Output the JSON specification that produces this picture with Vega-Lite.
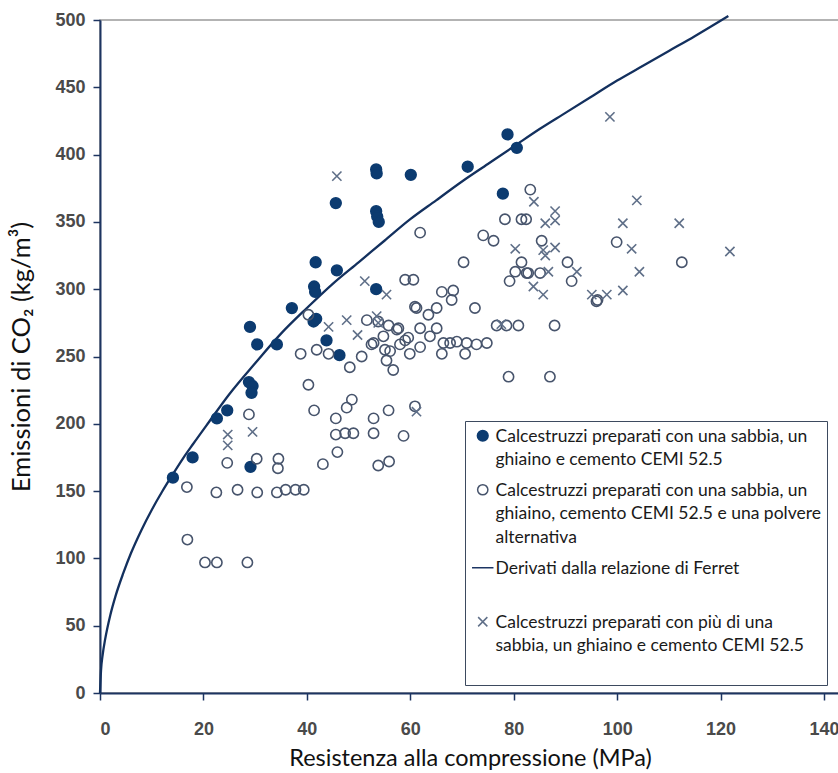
{
  "$schema": "https://vega.github.io/schema/vega-lite/v6.json",
  "width": 740,
  "height": 673,
  "autosize": {"type": "none"},
  "padding": {"left": 100, "top": 20, "right": 0, "bottom": 80},
  "background": "white",
  "config": {
    "view": {"stroke": "#9a9a9a", "strokeWidth": 1.5},
    "axis": {
      "grid": false,
      "domainColor": "#1d3461",
      "domainWidth": 2,
      "tickColor": "#1d3461",
      "tickWidth": 1.5,
      "tickSize": 7,
      "labelFont": "Liberation Sans",
      "labelFontSize": 18,
      "labelFontWeight": "bold",
      "labelColor": "#4a4a4a",
      "titleFont": "Lato",
      "titleFontSize": 25.5,
      "titleFontWeight": "normal",
      "titleColor": "#111111"
    }
  },
  "datasets": {
    "curve": [
      {"x": 0, "y": 0}, {"x": 0.2, "y": 17}, {"x": 0.5, "y": 28}, {"x": 1, "y": 40}, {"x": 2, "y": 58},
      {"x": 3, "y": 72}, {"x": 4.5, "y": 89}, {"x": 6, "y": 104}, {"x": 8, "y": 121}, {"x": 10, "y": 136},
      {"x": 12, "y": 149.5}, {"x": 14, "y": 162}, {"x": 16, "y": 174}, {"x": 18, "y": 185}, {"x": 21, "y": 201},
      {"x": 25, "y": 222}, {"x": 30, "y": 245}, {"x": 35, "y": 267}, {"x": 40, "y": 286}, {"x": 45, "y": 304},
      {"x": 50, "y": 320}, {"x": 55, "y": 336}, {"x": 60, "y": 352}, {"x": 65, "y": 366}, {"x": 70, "y": 380},
      {"x": 75, "y": 393}, {"x": 80, "y": 406}, {"x": 85, "y": 419}, {"x": 90, "y": 431}, {"x": 95, "y": 443},
      {"x": 100, "y": 455}, {"x": 105, "y": 466}, {"x": 110, "y": 477}, {"x": 115, "y": 488}, {"x": 121.5, "y": 503}
    ],
    "pts": [
      {"x": 14.1, "y": 160, "s": "A"}, {"x": 17.9, "y": 175, "s": "A"}, {"x": 22.6, "y": 204, "s": "A"},
      {"x": 24.6, "y": 210, "s": "A"}, {"x": 28.8, "y": 231, "s": "A"}, {"x": 29.5, "y": 228, "s": "A"},
      {"x": 29.3, "y": 223, "s": "A"}, {"x": 29.1, "y": 168, "s": "A"}, {"x": 29.0, "y": 272, "s": "A"},
      {"x": 30.4, "y": 259, "s": "A"}, {"x": 34.2, "y": 259, "s": "A"}, {"x": 37.1, "y": 286, "s": "A"},
      {"x": 41.7, "y": 320, "s": "A"}, {"x": 41.4, "y": 302, "s": "A"}, {"x": 41.6, "y": 298, "s": "A"},
      {"x": 41.3, "y": 276, "s": "A"}, {"x": 41.8, "y": 278, "s": "A"}, {"x": 45.8, "y": 314, "s": "A"},
      {"x": 45.6, "y": 364, "s": "A"}, {"x": 43.8, "y": 262, "s": "A"}, {"x": 46.3, "y": 251, "s": "A"},
      {"x": 53.4, "y": 300, "s": "A"}, {"x": 53.4, "y": 389, "s": "A"}, {"x": 53.5, "y": 386, "s": "A"},
      {"x": 53.4, "y": 358, "s": "A"}, {"x": 53.6, "y": 354, "s": "A"}, {"x": 53.9, "y": 350, "s": "A"},
      {"x": 60.1, "y": 385, "s": "A"}, {"x": 71.1, "y": 391, "s": "A"}, {"x": 77.9, "y": 371, "s": "A"},
      {"x": 78.8, "y": 415, "s": "A"}, {"x": 80.6, "y": 405, "s": "A"},

      {"x": 16.8, "y": 153, "s": "B"}, {"x": 16.9, "y": 114, "s": "B"}, {"x": 20.3, "y": 97, "s": "B"},
      {"x": 22.6, "y": 97, "s": "B"}, {"x": 28.5, "y": 97, "s": "B"}, {"x": 22.5, "y": 149, "s": "B"},
      {"x": 26.6, "y": 151, "s": "B"}, {"x": 30.4, "y": 149, "s": "B"}, {"x": 34.2, "y": 149, "s": "B"},
      {"x": 35.9, "y": 151, "s": "B"}, {"x": 37.8, "y": 151, "s": "B"}, {"x": 39.4, "y": 151, "s": "B"},
      {"x": 24.6, "y": 171, "s": "B"}, {"x": 30.3, "y": 174, "s": "B"}, {"x": 34.5, "y": 174, "s": "B"},
      {"x": 34.4, "y": 167, "s": "B"}, {"x": 28.8, "y": 207, "s": "B"}, {"x": 43.1, "y": 170, "s": "B"},
      {"x": 45.9, "y": 179, "s": "B"}, {"x": 40.3, "y": 229, "s": "B"}, {"x": 41.4, "y": 210, "s": "B"},
      {"x": 45.6, "y": 204, "s": "B"}, {"x": 45.6, "y": 192, "s": "B"}, {"x": 47.4, "y": 193, "s": "B"},
      {"x": 49.0, "y": 193, "s": "B"}, {"x": 47.7, "y": 212, "s": "B"}, {"x": 48.7, "y": 218, "s": "B"},
      {"x": 52.9, "y": 204, "s": "B"}, {"x": 52.9, "y": 193, "s": "B"}, {"x": 55.8, "y": 210, "s": "B"},
      {"x": 53.8, "y": 169, "s": "B"}, {"x": 55.9, "y": 172, "s": "B"}, {"x": 58.7, "y": 191, "s": "B"},
      {"x": 60.9, "y": 213, "s": "B"},
      {"x": 38.8, "y": 252, "s": "B"}, {"x": 40.3, "y": 281, "s": "B"}, {"x": 41.9, "y": 255, "s": "B"},
      {"x": 44.2, "y": 252, "s": "B"}, {"x": 48.3, "y": 242, "s": "B"}, {"x": 50.6, "y": 250, "s": "B"},
      {"x": 52.9, "y": 260, "s": "B"}, {"x": 56.7, "y": 240, "s": "B"}, {"x": 55.1, "y": 255, "s": "B"},
      {"x": 55.4, "y": 247, "s": "B"}, {"x": 57.7, "y": 271, "s": "B"}, {"x": 59.0, "y": 262, "s": "B"},
      {"x": 59.9, "y": 252, "s": "B"}, {"x": 60.9, "y": 287, "s": "B"}, {"x": 59.0, "y": 307, "s": "B"},
      {"x": 60.6, "y": 307, "s": "B"}, {"x": 61.9, "y": 342, "s": "B"}, {"x": 51.6, "y": 277, "s": "B"},
      {"x": 53.8, "y": 276, "s": "B"}, {"x": 55.8, "y": 273, "s": "B"}, {"x": 57.4, "y": 270, "s": "B"},
      {"x": 59.6, "y": 264, "s": "B"}, {"x": 61.2, "y": 286, "s": "B"}, {"x": 63.5, "y": 281, "s": "B"},
      {"x": 65.1, "y": 286, "s": "B"}, {"x": 65.1, "y": 271, "s": "B"}, {"x": 63.8, "y": 265, "s": "B"},
      {"x": 61.9, "y": 257, "s": "B"}, {"x": 58.0, "y": 259, "s": "B"}, {"x": 56.1, "y": 254, "s": "B"},
      {"x": 52.5, "y": 259, "s": "B"}, {"x": 54.8, "y": 265, "s": "B"}, {"x": 61.9, "y": 271, "s": "B"},
      {"x": 66.4, "y": 260, "s": "B"}, {"x": 66.1, "y": 252, "s": "B"}, {"x": 67.7, "y": 260, "s": "B"},
      {"x": 69.0, "y": 261, "s": "B"}, {"x": 70.6, "y": 252, "s": "B"}, {"x": 70.9, "y": 260, "s": "B"},
      {"x": 72.8, "y": 259, "s": "B"}, {"x": 74.8, "y": 260, "s": "B"}, {"x": 72.5, "y": 286, "s": "B"},
      {"x": 76.7, "y": 273, "s": "B"}, {"x": 78.6, "y": 273, "s": "B"}, {"x": 80.9, "y": 273, "s": "B"},
      {"x": 87.9, "y": 273, "s": "B"}, {"x": 79.0, "y": 235, "s": "B"}, {"x": 87.0, "y": 235, "s": "B"},
      {"x": 66.1, "y": 298, "s": "B"}, {"x": 68.3, "y": 299, "s": "B"}, {"x": 68.0, "y": 292, "s": "B"},
      {"x": 70.3, "y": 320, "s": "B"}, {"x": 74.1, "y": 340, "s": "B"}, {"x": 76.1, "y": 336, "s": "B"},
      {"x": 83.2, "y": 374, "s": "B"}, {"x": 78.3, "y": 352, "s": "B"}, {"x": 81.5, "y": 352, "s": "B"},
      {"x": 82.4, "y": 352, "s": "B"}, {"x": 85.4, "y": 336, "s": "B"}, {"x": 81.5, "y": 320, "s": "B"},
      {"x": 80.3, "y": 313, "s": "B"}, {"x": 82.5, "y": 312, "s": "B"}, {"x": 82.8, "y": 312, "s": "B"},
      {"x": 79.2, "y": 306, "s": "B"}, {"x": 85.1, "y": 312, "s": "B"}, {"x": 90.4, "y": 320, "s": "B"},
      {"x": 91.2, "y": 306, "s": "B"}, {"x": 99.9, "y": 335, "s": "B"}, {"x": 96.2, "y": 292, "s": "B"},
      {"x": 96.0, "y": 291, "s": "B"}, {"x": 112.5, "y": 320, "s": "B"},

      {"x": 24.7, "y": 192, "s": "D"}, {"x": 24.7, "y": 184, "s": "D"}, {"x": 29.5, "y": 194, "s": "D"},
      {"x": 45.8, "y": 384, "s": "D"}, {"x": 44.2, "y": 272, "s": "D"}, {"x": 47.7, "y": 277, "s": "D"},
      {"x": 49.8, "y": 266, "s": "D"}, {"x": 51.2, "y": 306, "s": "D"}, {"x": 55.4, "y": 296, "s": "D"},
      {"x": 53.5, "y": 280, "s": "D"}, {"x": 53.8, "y": 275, "s": "D"}, {"x": 61.2, "y": 209, "s": "D"},
      {"x": 77.6, "y": 274, "s": "D"}, {"x": 83.9, "y": 365, "s": "D"}, {"x": 88.0, "y": 358, "s": "D"},
      {"x": 86.1, "y": 349, "s": "D"}, {"x": 88.0, "y": 351, "s": "D"}, {"x": 80.3, "y": 330, "s": "D"},
      {"x": 85.7, "y": 329, "s": "D"}, {"x": 88.0, "y": 331, "s": "D"}, {"x": 86.1, "y": 325, "s": "D"},
      {"x": 86.7, "y": 313, "s": "D"}, {"x": 92.2, "y": 313, "s": "D"}, {"x": 83.8, "y": 302, "s": "D"},
      {"x": 85.7, "y": 296, "s": "D"}, {"x": 103.8, "y": 366, "s": "D"}, {"x": 101.1, "y": 349, "s": "D"},
      {"x": 112.0, "y": 349, "s": "D"}, {"x": 102.8, "y": 330, "s": "D"}, {"x": 104.3, "y": 313, "s": "D"},
      {"x": 101.1, "y": 299, "s": "D"}, {"x": 95.1, "y": 296, "s": "D"}, {"x": 98.0, "y": 296, "s": "D"},
      {"x": 121.8, "y": 328, "s": "D"}, {"x": 98.6, "y": 428, "s": "D"}
    ]
  },
  "layer": [
    {
      "data": {"name": "curve"},
      "mark": {"type": "line", "color": "#13305e", "strokeWidth": 2.3, "interpolate": "monotone", "clip": false},
      "encoding": {
        "x": {"field": "x", "type": "quantitative"},
        "y": {"field": "y", "type": "quantitative"}
      }
    },
    {
      "data": {"name": "pts"},
      "mark": {"type": "point", "strokeWidth": 1.6, "opacity": 1, "filled": false},
      "encoding": {
        "x": {
          "field": "x", "type": "quantitative",
          "scale": {"domain": [0, 143.09], "nice": false, "zero": false},
          "axis": {"values": [0, 20, 40, 60, 80, 100, 120, 140], "title": "Resistenza alla compressione (MPa)", "titleFontSize": 23.5, "labelPadding": 20, "titlePadding": 8}
        },
        "y": {
          "field": "y", "type": "quantitative",
          "scale": {"domain": [0, 500], "nice": false},
          "axis": {"values": [0, 50, 100, 150, 200, 250, 300, 350, 400, 450, 500], "title": "Emissioni di CO₂ (kg/m³)", "labelPadding": 8, "titlePadding": 20}
        },
        "shape": {
          "field": "s", "type": "nominal",
          "scale": {"domain": ["A", "B", "C", "D"], "range": ["circle", "circle", "M-2.2,0L2.2,0", "M-1,-1L1,1M-1,1L1,-1"]},
          "legend": {
            "orient": "none", "legendX": 365, "legendY": 401, "title": null,
            "fillColor": "white", "strokeColor": "#3d4a5f", "padding": 6,
            "labelFont": "Lato", "labelFontSize": 17.5, "labelColor": "#1a1a1a", "labelLimit": 0,
            "labelBaseline": "top", "rowPadding": 12, "labelOffset": 4, "symbolOffset": 3,
            "labelExpr": "datum.value == 'A' ? ['Calcestruzzi preparati con una sabbia, un', 'ghiaino e cemento CEMI 52.5'] : datum.value == 'B' ? ['Calcestruzzi preparati con una sabbia, un', 'ghiaino, cemento CEMI 52.5 e una polvere', 'alternativa'] : datum.value == 'C' ? ['Derivati dalla relazione di Ferret', ' '] : ['Calcestruzzi preparati con più di una', 'sabbia, un ghiaino e cemento CEMI 52.5', ' ']",
            "encoding": {"labels": {"dy": {"value": -8}, "lineHeight": {"value": 23.5}}}
          }
        },
        "fill": {
          "field": "s", "type": "nominal",
          "scale": {"domain": ["A", "B", "C", "D"], "range": ["#0c3b70", "transparent", "transparent", "transparent"]}
        },
        "stroke": {
          "field": "s", "type": "nominal",
          "scale": {"domain": ["A", "B", "C", "D"], "range": ["#0c3b70", "#47546c", "#1c3563", "#5f6f88"]}
        },
        "size": {
          "field": "s", "type": "nominal",
          "scale": {"domain": ["A", "B", "C", "D"], "range": [115, 85, 100, 80]}
        }
      }
    }
  ]
}
